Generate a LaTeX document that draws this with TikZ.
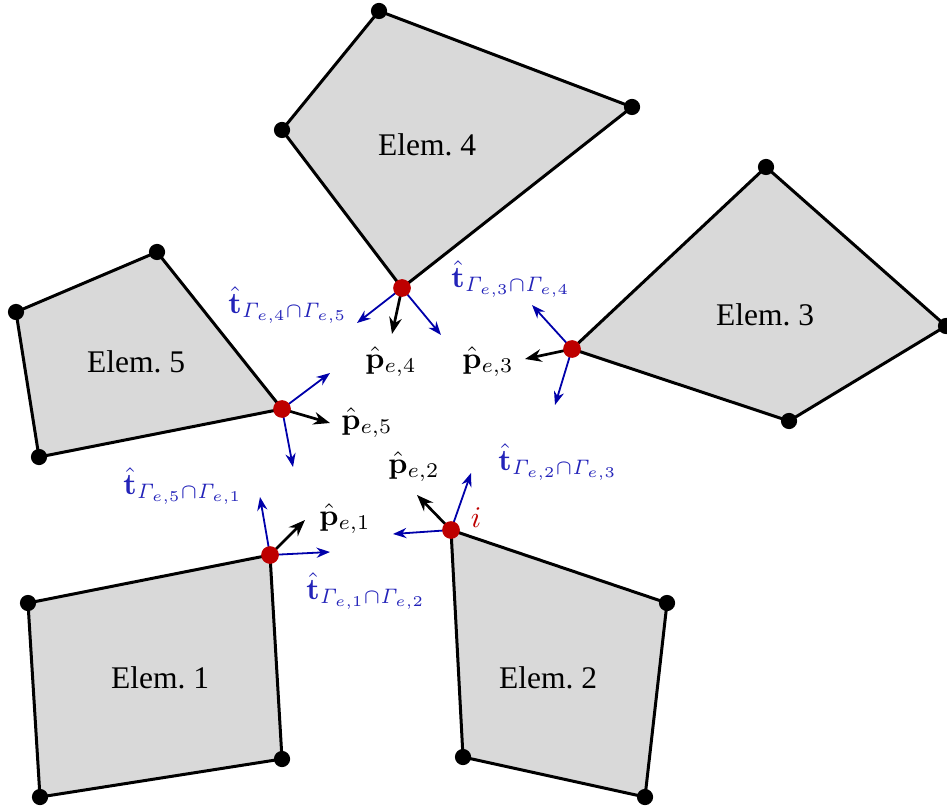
\documentclass[tikz,border=0pt]{standalone}
\usepackage{amsmath}
\usepackage[no-math]{fontspec}
\newfontfamily\elemfont{Liberation Serif}
\usetikzlibrary{arrows.meta}
\definecolor{elemgray}{RGB}{217,217,217}
\definecolor{nodered}{RGB}{190,0,0}
\definecolor{vecblue}{RGB}{0,0,170}
\definecolor{labblue}{RGB}{35,35,185}
\begin{document}
\begin{tikzpicture}[x=0.3333pt,y=-0.3333pt,
  elem/.style={fill=elemgray,draw=black,line width=1pt,line join=round},
  vtx/.style={circle,fill=black,inner sep=0pt,minimum size=5.4pt},
  rnode/.style={circle,fill=nodered,inner sep=0pt,minimum size=5.9pt},
  pvec/.style={-{Stealth[length=5.5pt,width=4.2pt]},line width=0.9pt,black},
  tvec/.style={-{Stealth[length=4.5pt,width=3.4pt]},line width=0.6pt,vecblue},
  tlab/.style={text=labblue,inner sep=0pt},
  plab/.style={inner sep=0pt},
  elab/.style={inner sep=0pt,font=\elemfont\fontsize{10.5}{12}\selectfont}]
\useasboundingbox (0,0) rectangle (947,810);
% shared (red) vertices
\coordinate (i1) at (270,555);
\coordinate (i2) at (451,530);
\coordinate (i3) at (572,349);
\coordinate (i4) at (402,288);
\coordinate (i5) at (282,409);
% element vertices
\coordinate (a1) at (282,759); \coordinate (b1) at (40,797); \coordinate (c1) at (28,603);
\coordinate (a2) at (667,603); \coordinate (b2) at (645,797); \coordinate (c2) at (463,757);
\coordinate (a3) at (766,167); \coordinate (b3) at (946,326); \coordinate (c3) at (789,421);
\coordinate (a4) at (379,11); \coordinate (b4) at (632,107); \coordinate (c4) at (282,130);
\coordinate (a5) at (157,252); \coordinate (b5) at (16,312); \coordinate (c5) at (39,457);
% elements
\draw[elem] (i1) -- (a1) -- (b1) -- (c1) -- cycle;
\draw[elem] (i2) -- (a2) -- (b2) -- (c2) -- cycle;
\draw[elem] (i3) -- (a3) -- (b3) -- (c3) -- cycle;
\draw[elem] (i4) -- (c4) -- (a4) -- (b4) -- cycle;
\draw[elem] (i5) -- (a5) -- (b5) -- (c5) -- cycle;
\node[elab] (e1) at (160,678) {Elem.~1};
\node[elab] (e2) at (548,678) {Elem.~2};
\node[elab] (e3) at (765,315) {Elem.~3};
\node[elab] (e4) at (427,145) {Elem.~4};
\node[elab] (e5) at (136,362) {Elem.~5};
% vector tips
\coordinate (p1) at (305,520); \coordinate (t1u) at (260,497); \coordinate (t1r) at (330,552);
\coordinate (p2) at (417,495); \coordinate (t2u) at (471,473); \coordinate (t2l) at (393,534);
\coordinate (p3) at (525,359); \coordinate (t3u) at (532,305); \coordinate (t3d) at (555,405);
\coordinate (p4) at (392,334); \coordinate (t4l) at (357,323); \coordinate (t4r) at (441,335);
\coordinate (p5) at (330,423); \coordinate (t5u) at (330,373); \coordinate (t5d) at (293,467);
% tangent vectors
\draw[tvec] (i1) -- (t1u);
\draw[tvec] (i1) -- (t1r);
\draw[tvec] (i2) -- (t2u);
\draw[tvec] (i2) -- (t2l);
\draw[tvec] (i3) -- (t3u);
\draw[tvec] (i3) -- (t3d);
\draw[tvec] (i4) -- (t4l);
\draw[tvec] (i4) -- (t4r);
\draw[tvec] (i5) -- (t5u);
\draw[tvec] (i5) -- (t5d);
% p vectors
\draw[pvec] (i1) -- (p1);
\draw[pvec] (i2) -- (p2);
\draw[pvec] (i3) -- (p3);
\draw[pvec] (i4) -- (p4);
\draw[pvec] (i5) -- (p5);
% vertex dots
\foreach \v in {a1,b1,c1,a2,b2,c2,a3,b3,c3,a4,b4,c4,a5,b5,c5}
  \node[vtx] (d\v) at (\v) {};
\node[rnode] (n1) at (i1) {};
\node[rnode] (n2) at (i2) {};
\node[rnode] (n3) at (i3) {};
\node[rnode] (n4) at (i4) {};
\node[rnode] (n5) at (i5) {};
\node[text=nodered,inner sep=0pt] (il) at (476,518) {$i$};
% labels
\node[plab] (lp1) at (345,519) {$\hat{\mathbf{p}}_{e,1}$};
\node[plab] (lp2) at (414,467) {$\hat{\mathbf{p}}_{e,2}$};
\node[plab] (lp3) at (488,362) {$\hat{\mathbf{p}}_{e,3}$};
\node[plab] (lp4) at (391,362) {$\hat{\mathbf{p}}_{e,4}$};
\node[plab] (lp5) at (367,423) {$\hat{\mathbf{p}}_{e,5}$};
\node[tlab] (lt12) at (366,591) {$\hat{\mathbf{t}}_{\mathit{\Gamma}_{e,1}\cap\mathit{\Gamma}_{e,2}}$};
\node[tlab] (lt23) at (558,462) {$\hat{\mathbf{t}}_{\mathit{\Gamma}_{e,2}\cap\mathit{\Gamma}_{e,3}}$};
\node[tlab] (lt34) at (511,279) {$\hat{\mathbf{t}}_{\mathit{\Gamma}_{e,3}\cap\mathit{\Gamma}_{e,4}}$};
\node[tlab] (lt45) at (288,305) {$\hat{\mathbf{t}}_{\mathit{\Gamma}_{e,4}\cap\mathit{\Gamma}_{e,5}}$};
\node[tlab] (lt51) at (183,486) {$\hat{\mathbf{t}}_{\mathit{\Gamma}_{e,5}\cap\mathit{\Gamma}_{e,1}}$};
\end{tikzpicture}
\end{document}
